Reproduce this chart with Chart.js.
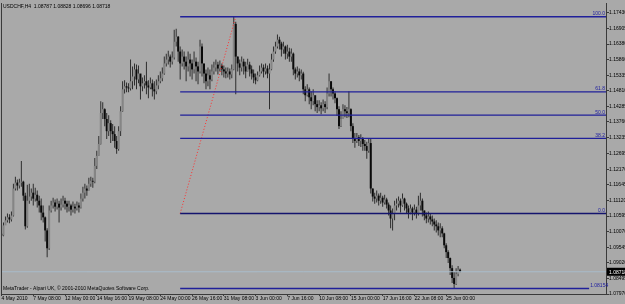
<!DOCTYPE html>
<html>
<head>
<meta charset="utf-8">
<script src="https://cdn.jsdelivr.net/npm/chart.js@4.4.1/dist/chart.umd.min.js"></script>
<style>
  html, body { margin: 0; padding: 0; background: #a9a9a9; }
  canvas { display: block; }
</style>
</head>
<body>
<canvas id="usdchf" width="625" height="304"></canvas>
<script>
// USDCHF H4, 4 May - 25 Jun 2010, one value per bar
var firstOpen = 1.1000;
var closes = [
  1.0994,1.1028,1.1045,1.1055,1.1048,1.1061,1.1152,1.1172,1.1162,1.1172,
  1.1175,1.1128,1.1025,1.1111,1.1125,1.1138,1.1118,1.1131,1.1111,1.1095,
  1.1071,1.1055,1.1011,1.0951,1.1078,1.1095,1.1105,1.1091,1.1101,1.1088,
  1.1098,1.1111,1.1101,1.1091,1.1095,1.1081,1.1091,1.1085,1.1095,1.1088,
  1.1118,1.1138,1.1152,1.1145,1.1168,1.1178,1.1175,1.1228,1.1262,1.1302,
  1.1406,1.1419,1.1386,1.1345,1.1372,1.1345,1.1335,1.1312,1.1285,1.1345,
  1.1412,1.1486,1.1496,1.1492,1.1489,1.1513,1.1529,1.1553,1.1519,1.1539,
  1.1496,1.1506,1.1513,1.1499,1.1492,1.1506,1.1486,1.1479,1.1499,1.1513,
  1.1523,1.1539,1.1573,1.1586,1.1596,1.1579,1.1593,1.1646,1.1663,1.1613,
  1.1573,1.1596,1.1579,1.1563,1.1586,1.1573,1.1553,1.1579,1.1563,1.1546,
  1.1630,1.1573,1.1539,1.1513,1.1533,1.1519,1.1546,1.1559,1.1569,1.1556,
  1.1566,1.1553,1.1546,1.1539,1.1546,1.1536,1.1553,1.1706,1.1596,1.1573,
  1.1559,1.1579,1.1563,1.1546,1.1569,1.1553,1.1539,1.1526,1.1516,1.1533,
  1.1546,1.1559,1.1546,1.1556,1.1539,1.1553,1.1586,1.1613,1.1630,1.1653,
  1.1640,1.1620,1.1630,1.1606,1.1613,1.1596,1.1606,1.1553,1.1539,1.1546,
  1.1533,1.1539,1.1486,1.1466,1.1486,1.1459,1.1446,1.1466,1.1436,1.1426,
  1.1432,1.1422,1.1436,1.1426,1.1472,1.1513,1.1486,1.1472,1.1456,1.1419,
  1.1362,1.1386,1.1419,1.1412,1.1406,1.1419,1.1362,1.1319,1.1312,1.1325,
  1.1312,1.1319,1.1302,1.1295,1.1279,1.1305,1.1152,1.1125,1.1118,1.1128,
  1.1111,1.1121,1.1105,1.1115,1.1098,1.1078,1.1051,1.1068,1.1095,1.1101,
  1.1111,1.1095,1.1118,1.1101,1.1085,1.1071,1.1085,1.1071,1.1081,1.1068,
  1.1095,1.1111,1.1078,1.1061,1.1051,1.1058,1.1048,1.1041,1.1031,1.1025,
  1.1011,1.1018,1.1001,1.0961,1.0938,1.0918,1.0884,1.0851,1.0831,1.0864,
  1.0879,1.0872
];
var highs = [
  1.1004,1.1038,1.1058,1.1068,1.1065,1.1075,1.1168,1.1192,1.1182,1.1185,
  1.1245,1.1178,1.1138,1.1165,1.1168,1.1152,1.1168,1.1155,1.1145,1.1128,
  1.1118,1.1095,1.1058,1.1018,1.1095,1.1111,1.1121,1.1115,1.1118,1.1111,
  1.1118,1.1128,1.1121,1.1111,1.1111,1.1101,1.1108,1.1101,1.1108,1.1105,
  1.1135,1.1158,1.1168,1.1162,1.1188,1.1192,1.1188,1.1255,1.1279,1.1329,
  1.1446,1.1442,1.1422,1.1406,1.1399,1.1382,1.1369,1.1362,1.1329,1.1362,
  1.1429,1.1513,1.1516,1.1509,1.1506,1.1586,1.1563,1.1573,1.1569,1.1566,
  1.1523,1.1526,1.1533,1.1579,1.1516,1.1526,1.1519,1.1513,1.1519,1.1533,
  1.1546,1.1559,1.1596,1.1606,1.1616,1.1603,1.1613,1.1686,1.1690,1.1665,
  1.1630,1.1620,1.1613,1.1596,1.1613,1.1606,1.1586,1.1613,1.1593,1.1579,
  1.1653,1.1640,1.1569,1.1553,1.1559,1.1553,1.1569,1.1579,1.1586,1.1579,
  1.1583,1.1573,1.1566,1.1559,1.1559,1.1556,1.1569,1.1730,1.1713,1.1596,
  1.1586,1.1596,1.1589,1.1579,1.1589,1.1579,1.1566,1.1553,1.1539,1.1546,
  1.1566,1.1573,1.1569,1.1573,1.1566,1.1573,1.1606,1.1630,1.1646,1.1670,
  1.1663,1.1646,1.1646,1.1633,1.1636,1.1626,1.1623,1.1610,1.1559,1.1563,
  1.1556,1.1553,1.1545,1.1496,1.1503,1.1492,1.1479,1.1486,1.1459,1.1449,
  1.1449,1.1442,1.1452,1.1446,1.1492,1.1539,1.1513,1.1492,1.1479,1.1458,
  1.1429,1.1412,1.1436,1.1432,1.1426,1.1479,1.1422,1.1372,1.1339,1.1339,
  1.1332,1.1335,1.1325,1.1315,1.1309,1.1322,1.1319,1.1152,1.1138,1.1145,
  1.1135,1.1138,1.1128,1.1131,1.1121,1.1105,1.1095,1.1085,1.1111,1.1118,
  1.1125,1.1118,1.1135,1.1121,1.1105,1.1095,1.1098,1.1091,1.1098,1.1091,
  1.1128,1.1138,1.1118,1.1078,1.1071,1.1075,1.1068,1.1061,1.1051,1.1045,
  1.1038,1.1035,1.1025,1.1003,1.0968,1.0944,1.0920,1.0894,1.0871,1.0884,
  1.0891,1.0883
];
var lows = [
  1.0968,1.0991,1.1031,1.1038,1.1035,1.1041,1.1058,1.1145,1.1145,1.1152,
  1.1158,1.1111,1.1014,1.1020,1.1101,1.1111,1.1095,1.1108,1.1088,1.1071,
  1.1045,1.1038,1.0974,1.0921,1.0945,1.1071,1.1085,1.1075,1.1081,1.1038,
  1.1078,1.1088,1.1081,1.1071,1.1075,1.1061,1.1071,1.1068,1.1078,1.1071,
  1.1085,1.1108,1.1118,1.1128,1.1145,1.1158,1.1155,1.1170,1.1218,1.1262,
  1.1300,1.1386,1.1362,1.1319,1.1329,1.1305,1.1312,1.1289,1.1269,1.1279,
  1.1329,1.1410,1.1472,1.1476,1.1476,1.1482,1.1486,1.1499,1.1486,1.1506,
  1.1452,1.1479,1.1489,1.1469,1.1456,1.1486,1.1462,1.1452,1.1469,1.1486,
  1.1506,1.1513,1.1535,1.1563,1.1569,1.1559,1.1569,1.1586,1.1630,1.1579,
  1.1519,1.1563,1.1553,1.1513,1.1546,1.1529,1.1519,1.1539,1.1513,1.1503,
  1.1539,1.1529,1.1506,1.1486,1.1496,1.1486,1.1513,1.1536,1.1546,1.1536,
  1.1546,1.1533,1.1526,1.1523,1.1526,1.1519,1.1523,1.1550,1.1469,1.1546,
  1.1533,1.1546,1.1536,1.1523,1.1546,1.1529,1.1519,1.1506,1.1503,1.1513,
  1.1529,1.1539,1.1526,1.1536,1.1523,1.1419,1.1550,1.1579,1.1606,1.1623,
  1.1620,1.1596,1.1606,1.1586,1.1589,1.1579,1.1579,1.1533,1.1519,1.1526,
  1.1513,1.1519,1.1469,1.1446,1.1462,1.1436,1.1419,1.1432,1.1412,1.1406,
  1.1412,1.1402,1.1412,1.1406,1.1419,1.1462,1.1462,1.1452,1.1439,1.1396,
  1.1352,1.1359,1.1386,1.1392,1.1389,1.1392,1.1345,1.1305,1.1289,1.1305,
  1.1295,1.1292,1.1279,1.1279,1.1252,1.1272,1.1135,1.1108,1.1101,1.1105,
  1.1095,1.1101,1.1091,1.1098,1.1085,1.1061,1.1018,1.1011,1.1045,1.1078,
  1.1088,1.1071,1.1091,1.1078,1.1068,1.1051,1.1065,1.1045,1.1061,1.1051,
  1.1061,1.1078,1.1058,1.1045,1.1035,1.1038,1.1031,1.1025,1.1011,1.1004,
  1.0994,1.0988,1.0988,1.0951,1.0918,1.0901,1.0861,1.0834,1.0815,1.0827,
  1.0857,1.0870
];

var timeLabels = ['4 May 2010', '7 May 08:00', '12 May 00:00', '14 May 16:00', '19 May 08:00',
  '24 May 00:00', '26 May 16:00', '31 May 08:00', '3 Jun 00:00', '7 Jun 16:00',
  '10 Jun 08:00', '15 Jun 00:00', '17 Jun 16:00', '22 Jun 08:00', '25 Jun 00:00'];
var barsPerLabel = 16;
var priceTicks = [1.17430, 1.16905, 1.16380, 1.15860, 1.15335, 1.14810, 1.14285, 1.13760,
  1.13235, 1.12695, 1.12170, 1.11645, 1.11120, 1.10595, 1.10070, 1.09545, 1.09020,
  1.08495, 1.07970];

// fibonacci drawn from the low bar to the high bar
var fibFromBar = 90, fibToBar = 118;
var fibLow = 1.1068, fibHigh = 1.1730;
var fibRatios = [0, 0.382, 0.5, 0.618, 1];
var lowLine = 1.08154, lowLineEndBar = 296;
var bid = 1.08718;
var header = 'USDCHF,H4  1.08787 1.08828 1.08696 1.08718';

var xMin = -0.25, xMax = 304.5;
var font = '"Liberation Sans", Arial, sans-serif';

var opens = closes.map(function(c, i) { return i === 0 ? firstOpen : closes[i - 1]; });
var wicks = closes.map(function(c, i) { return {x: i, y: [lows[i], highs[i]]}; });
var bodies = closes.map(function(c, i) { return {x: i, y: [opens[i], c]}; });

function hline(v, x0, x1) { return [{x: x0, y: v}, {x: x1, y: v}]; }

var fibLevels = fibRatios.map(function(r) { return fibLow + (fibHigh - fibLow) * r; });
var lineSets = fibLevels.map(function(v, k) {
  return {type: 'line', data: hline(v, fibFromBar, xMax), borderColor: k === 0 ? '#14146e' : '#20209a',
    borderWidth: 1.4, pointRadius: 0, order: 0};
});
lineSets.push({type: 'line', data: hline(lowLine, fibFromBar, lowLineEndBar), borderColor: '#20209a',
  borderWidth: 1.4, pointRadius: 0, order: 0});
lineSets.push({type: 'line', data: hline(bid, xMin, xMax), borderColor: '#a9bccb',
  borderWidth: 1, pointRadius: 0, order: 0});
lineSets.push({type: 'line', data: [{x: fibFromBar, y: fibLow}, {x: fibToBar, y: fibHigh}],
  borderColor: '#ff3030', borderWidth: 1, borderDash: [1, 2], pointRadius: 0, order: 0});

var mt4Overlay = {
  id: 'mt4Overlay',
  beforeDraw: function(chart) {
    var c = chart.ctx;
    c.save();
    c.fillStyle = '#a9a9a9';
    c.fillRect(0, 0, chart.width, chart.height);
    c.restore();
  },
  afterDraw: function(chart) {
    var c = chart.ctx, a = chart.chartArea, y = chart.scales.y;
    c.save();
    c.strokeStyle = '#3a3a3a';
    c.lineWidth = 1;
    c.beginPath();
    c.moveTo(a.left + 0.5, a.top);
    c.lineTo(a.left + 0.5, a.bottom);
    c.stroke();

    c.font = '5px ' + font;
    c.fillStyle = '#000';
    c.textBaseline = 'alphabetic';
    c.textAlign = 'left';
    c.fillText(header, 3, 8);
    c.fillText('MetaTrader - Alpari UK, \u00a9 2001-2010 MetaQuotes Software Corp.', 3, 290);

    c.fillStyle = '#2020a0';
    c.textAlign = 'right';
    fibRatios.forEach(function(r, k) {
      var py = y.getPixelForValue(fibLevels[k]);
      c.fillText((r * 100).toFixed(1), a.right - 1, py - 1.5);
    });
    var lx = chart.scales.x.getPixelForValue(lowLineEndBar);
    c.textAlign = 'left';
    c.fillText(lowLine.toFixed(5), lx + 1, y.getPixelForValue(lowLine) - 1.5);

    var by = y.getPixelForValue(bid);
    c.fillStyle = '#000';
    c.fillRect(a.right + 1, by - 4, chart.width - a.right - 1, 8);
    c.fillStyle = '#fff';
    c.textAlign = 'left';
    c.textBaseline = 'middle';
    c.fillText(bid.toFixed(5), a.right + 3, by + 0.5);
    c.restore();
  }
};

new Chart(document.getElementById('usdchf').getContext('2d'), {
  type: 'bar',
  data: {
    datasets: [
      {data: bodies, grouped: false, barThickness: 2, borderWidth: 0, inflateAmount: 0, order: 1,
        backgroundColor: function(ctx) {
          var i = ctx.dataIndex;
          return closes[i] >= opens[i] ? '#858585' : '#0a0a0a';
        }},
      {data: wicks, grouped: false, barThickness: 1, borderWidth: 0, inflateAmount: 0, order: 2,
        backgroundColor: '#2e2e2e'}
    ].concat(lineSets)
  },
  options: {
    responsive: false,
    devicePixelRatio: 1,
    animation: false,
    layout: {padding: {left: 1, top: 1, right: 0, bottom: 0}},
    plugins: {legend: {display: false}, tooltip: {enabled: false}},
    scales: {
      x: {
        type: 'linear', min: xMin, max: xMax, offset: false,
        afterBuildTicks: function(ax) {
          ax.ticks = timeLabels.map(function(t, k) { return {value: k * barsPerLabel}; });
        },
        afterFit: function(ax) { ax.height = 10; },
        ticks: {
          callback: function(v, i) { return timeLabels[i]; },
          align: 'start', autoSkip: false, maxRotation: 0, padding: 0,
          color: '#000', font: {family: font, size: 5}
        },
        grid: {drawOnChartArea: false, drawTicks: true, tickLength: 2, color: '#3a3a3a', offset: false},
        border: {display: true, color: '#3a3a3a'}
      },
      y: {
        position: 'right', min: 1.0797, max: 1.17764, beginAtZero: false,
        afterBuildTicks: function(ax) {
          ax.ticks = priceTicks.map(function(v) { return {value: v}; });
        },
        afterFit: function(ax) { ax.width = 19; },
        ticks: {
          callback: function(v) { return v.toFixed(5); },
          autoSkip: false, padding: 0, color: '#000', font: {family: font, size: 5}
        },
        grid: {drawOnChartArea: false, drawTicks: true, tickLength: 3, color: '#3a3a3a'},
        border: {display: true, color: '#3a3a3a'}
      }
    }
  },
  plugins: [mt4Overlay]
});
</script>
</body>
</html>
